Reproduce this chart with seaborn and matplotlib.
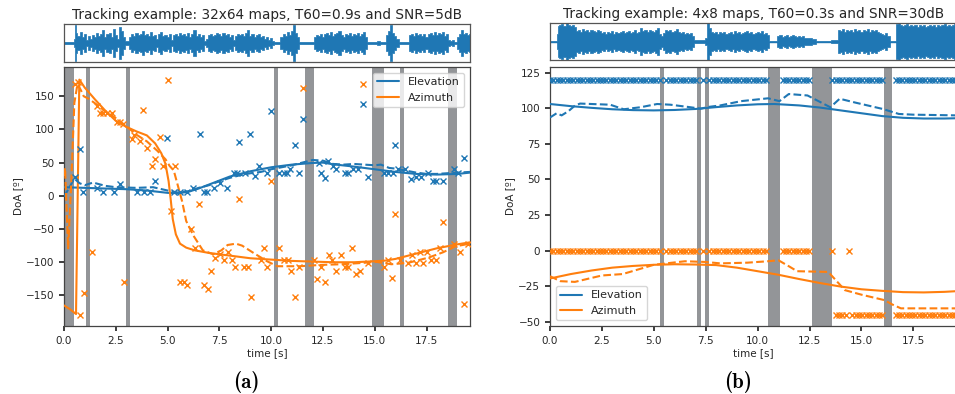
import numpy as np
import matplotlib
matplotlib.use("Agg")
import matplotlib.pyplot as plt
import seaborn as sns

# ---------------- data ----------------
T_END = 19.6
BLUE = "#1f77b4"
ORANGE = "#ff7f0e"
BAND = "#939598"

# (a) 32x64 maps, T60=0.9s, SNR=5dB
left_bands = [(0.0, 0.48), (1.06, 1.26), (3.0, 3.19), (10.12, 10.31), (11.65, 12.05),
              (14.89, 15.45), (16.24, 16.43), (18.56, 18.95)]

# waveform envelope (time [s], relative amplitude)
wave_l = [(0, 0.03), (0.45, 0.03), (0.5, 0.2), (0.55, 0.92), (0.6, 0.5), (0.7, 0.35), (0.8, 0.55),
          (0.9, 0.3), (1.0, 0.45), (1.1, 0.15), (1.2, 0.35), (1.3, 0.2), (1.4, 0.4), (1.5, 0.3),
          (1.6, 0.5), (1.7, 0.35), (1.8, 0.45), (1.9, 0.65), (2.0, 0.3), (2.1, 0.45), (2.2, 0.5),
          (2.3, 0.3), (2.4, 0.7), (2.5, 0.4), (2.6, 0.2), (2.7, 0.8), (2.8, 0.6), (2.9, 0.3),
          (3.0, 0.1), (3.1, 0.08), (3.2, 0.3), (3.3, 0.45), (3.4, 0.35), (3.5, 0.5), (3.6, 0.4),
          (3.7, 0.45), (3.8, 0.6), (3.9, 0.4), (4.0, 0.45), (4.1, 0.35), (4.2, 0.55), (4.3, 0.35),
          (4.4, 0.4), (4.5, 0.2), (4.6, 0.45), (4.7, 0.55), (4.8, 0.35), (4.9, 0.4), (5.0, 0.3),
          (5.1, 0.45), (5.2, 0.15), (5.3, 0.4), (5.4, 0.45), (5.5, 0.35), (5.6, 0.5), (5.7, 0.4),
          (5.8, 0.45), (5.9, 0.35), (6.0, 0.5), (6.1, 0.3), (6.2, 0.45), (6.3, 0.65), (6.4, 0.35),
          (6.5, 0.45), (6.6, 0.3), (6.7, 0.4), (6.8, 0.12), (6.9, 0.2), (7.0, 0.4), (7.1, 0.45),
          (7.2, 0.35), (7.3, 0.4), (7.4, 0.5), (7.5, 0.45), (7.6, 0.35), (7.7, 0.5), (7.8, 0.4),
          (7.9, 0.45), (8.0, 0.3), (8.1, 0.4), (8.2, 0.15), (8.3, 0.35), (8.4, 0.45), (8.5, 0.4),
          (8.6, 0.45), (8.7, 0.35), (8.8, 0.5), (8.9, 0.65), (9.0, 0.35), (9.1, 0.45), (9.2, 0.3),
          (9.3, 0.4), (9.4, 0.45), (9.5, 0.3), (9.6, 0.35), (9.7, 0.2), (9.8, 0.3), (9.9, 0.15),
          (10.0, 0.25), (10.1, 0.08), (10.2, 0.05), (10.4, 0.05), (10.5, 0.3), (10.6, 0.45),
          (10.7, 0.35), (10.8, 0.55), (10.9, 0.4), (11.0, 0.6), (11.1, 0.9), (11.2, 0.5),
          (11.3, 0.3), (11.4, 0.04), (12.0, 0.04), (12.1, 0.3), (12.2, 0.4), (12.3, 0.35),
          (12.4, 0.45), (12.5, 0.3), (12.6, 0.45), (12.7, 0.5), (12.8, 0.4), (12.9, 0.55),
          (13.0, 0.35), (13.1, 0.45), (13.2, 0.5), (13.3, 0.6), (13.4, 0.4), (13.5, 0.3),
          (13.6, 0.45), (13.7, 0.4), (13.8, 0.5), (13.9, 0.35), (14.0, 0.45), (14.1, 0.4),
          (14.2, 0.5), (14.3, 0.35), (14.4, 0.45), (14.5, 0.55), (14.6, 0.3), (14.7, 0.05),
          (15.0, 0.04), (15.2, 0.1), (15.3, 0.04), (15.5, 0.05), (15.6, 0.4), (15.7, 0.6),
          (15.8, 0.92), (15.9, 0.5), (16.0, 0.35), (16.1, 0.2), (16.2, 0.04), (16.6, 0.04),
          (16.7, 0.4), (16.8, 0.45), (16.9, 0.35), (17.0, 0.5), (17.1, 0.4), (17.2, 0.45),
          (17.3, 0.35), (17.4, 0.45), (17.5, 0.3), (17.6, 0.45), (17.7, 0.5), (17.8, 0.4),
          (17.9, 0.55), (18.0, 0.4), (18.1, 0.5), (18.2, 0.45), (18.3, 0.55), (18.4, 0.35),
          (18.5, 0.45), (18.6, 0.15), (18.7, 0.1), (18.8, 0.15), (18.9, 0.05), (19.0, 0.3),
          (19.1, 0.45), (19.2, 0.65), (19.3, 0.45), (19.4, 0.5), (19.5, 0.4), (19.6, 0.45)]

el_true_l_t = [0, 1, 2, 3, 4, 5, 5.5, 6, 6.5, 7, 7.5, 8, 9, 10, 11, 12, 12.5, 13, 14, 15, 16, 17,
               18, 19, 19.6]
el_true_l = [13, 12, 11, 10, 8, 4.5, 4, 6, 11, 17, 23, 29, 37, 43, 47, 49.5, 50, 47.5, 44, 40,
             36, 33, 32, 33, 35]
el_est_l_t = [0, 0.25, 0.5, 0.75, 1.0, 1.4, 2.0, 2.5, 3.5, 4.3, 5.0, 5.5, 6.0, 6.5, 7.0, 7.5, 8.0,
              8.5, 9.0, 9.5, 10.0, 10.5, 11.0, 11.5, 12.0, 12.5, 13.0, 13.5, 14.0, 14.5, 15.0,
              15.3, 15.7, 16.0, 16.5, 17.0, 17.5, 18.0, 18.5, 19.0, 19.6]
el_est_l = [-1, 12, 26, 19, 16, 20, 15, 13, 12, 13, 8, 5, 7, 12, 16, 22, 27, 31, 34, 36, 40, 43,
            46, 50, 54, 53, 48, 47, 48, 47, 46, 47, 42, 41, 38, 35, 33, 33, 34, 35, 36]
az_true_l_t = [0, 0.3, 0.58, 0.74, 1.0, 1.5, 2.0, 2.5, 3.0, 3.5, 4.0, 4.4, 4.7, 4.9, 5.05, 5.15,
               5.25, 5.4, 5.6, 5.9, 6.3, 7.0, 8.0, 9.0, 10.0, 11.0, 12.0, 13.0, 14.0, 15.0, 15.5,
               16.0, 16.5, 17.0, 17.5, 18.0, 18.5, 19.0, 19.6]
az_true_l = [-165, -171, -178, 175, 163, 145, 128, 113, 104, 97, 91, 79, 64, 48, 22, -5, -35,
             -58, -72, -78, -82, -86, -90, -94, -96, -98, -99, -100, -100, -98.5, -97.5, -95,
             -91, -87, -83, -79, -76, -73, -70]
az_est_l_t = [0, 0.05, 0.2, 0.35, 0.5, 0.65, 0.8, 0.95, 1.2, 1.6, 2.0, 2.5, 3.0, 3.5, 4.0, 4.5,
              4.9, 5.1, 5.3, 5.5, 5.7, 5.9, 6.25, 6.7, 7.2, 7.6, 7.9, 8.3, 8.6, 9.15, 9.8, 10.3,
              11.0, 11.4, 12.4, 13.4, 14.4, 15.1, 15.8, 16.6, 17.6, 18.3, 18.9, 19.6]
az_est_l = [30, 42, -79, 20, 140, 168, 160, 150, 146, 137, 127, 117, 105, 92, 82, 68, 55, 45, 38,
            15, -8, -38, -60, -82, -88, -82, -74, -72, -75, -86, -98.5, -106, -106, -106, -104,
            -103, -101, -99.5, -103, -101, -93, -85, -76, -72]

el_pts_l_t = [0.55, 0.77, 0.93, 1.58, 1.9, 2.39, 2.7, 3.5, 3.84, 4.16, 4.4, 4.96, 5.3, 5.6, 5.93,
              6.25, 6.57, 6.74, 6.9, 7.22, 7.54, 7.86, 8.2, 8.35, 8.43, 8.75, 9.0, 9.24, 9.4, 9.8,
              9.99, 10.36, 10.6, 10.77, 10.93, 11.17, 11.33, 11.54, 12.3, 12.4, 12.6, 12.75, 13.0,
              13.15, 13.56, 13.72, 13.96, 14.2, 14.44, 14.67, 15.47, 15.63, 15.87, 16.0, 16.1,
              16.45, 16.77, 17.0, 17.25, 17.57, 17.8, 17.96, 18.3, 18.85, 19.0, 19.3]
el_pts_l = [29, 70, 6.5, 11.6, 6.5, 6.5, 18, 6.5, 6.5, 6.5, 23, 87, 6.5, 6.5, 6.5, 12, 93, 6.5,
            6.5, 12, 20, 12, 35, 35, 81, 35, 93, 30, 45, 35, 128, 35, 35, 35, 40, 76, 35, 116, 50,
            35, 27, 53, 45, 40, 35, 35, 41, 41, 139, 29, 35, 35, 35, 76, 40, 40, 26, 28, 28, 35,
            23, 23, 23, 40, 35, 57]
az_pts_l_t = [0.53, 0.66, 0.77, 0.97, 1.34, 1.58, 1.74, 1.9, 2.06, 2.3, 2.55, 2.7, 2.87, 2.9,
              3.27, 3.4, 3.67, 3.83, 4.0, 4.24, 4.4, 4.64, 4.8, 5.0, 5.17, 5.37, 5.6, 5.77, 5.96,
              6.14, 6.33, 6.54, 6.74, 6.93, 7.1, 7.3, 7.54, 7.7, 7.9, 8.1, 8.27, 8.47, 8.67, 8.86,
              9.04, 9.5, 9.64, 9.8, 10.0, 10.4, 10.6, 10.8, 10.97, 11.17, 11.33, 11.54, 12.05,
              12.2, 12.4, 12.6, 12.8, 12.96, 13.15, 13.35, 13.55, 13.7, 13.9, 14.1, 14.3, 14.44,
              14.67, 15.45, 15.64, 15.83, 16.0, 16.2, 16.6, 16.8, 17.0, 17.2, 17.35, 17.5, 17.7,
              17.95, 18.15, 18.3, 18.85, 19.1, 19.3, 19.5]
az_pts_l = [169, 172, -180, -146, -84, 135, 124, 124, 124, 124, 111, 111, 108, -130, 86, 91, 83,
            129, 72, 45, 56, 89, 45, 174, -23, 45, -130, -130, -135, -50, -79, -13, -135, -141,
            -113, -94, -88, -96, -85, -96, -107, -5, -107, -107, -152, -96, -79, -107, 22, -79,
            -96, -96, -113, -152, -107, 163, -96, -125, -107, -130, -89, -96, -113, -89, -107,
            -107, -78, -118, -113, 169, -101, -107, -96, -124, -28, -96, -101, -89, -101, -85,
            -101, -85, -96, -96, -78, -39, -73, -85, -163, -73]

# (b) 4x8 maps, T60=0.3s, SNR=30dB
right_bands = [(5.32, 5.51), (7.06, 7.25), (7.45, 7.64), (10.49, 11.07), (12.62, 13.59),
               (16.10, 16.49)]

wave_r = [(0, 0.05), (0.3, 0.05), (0.35, 0.4), (0.4, 0.8), (0.5, 0.85), (0.6, 0.9), (0.7, 0.8),
          (0.8, 0.95), (0.9, 0.85), (1.0, 0.8), (1.1, 0.85), (1.2, 0.75), (1.3, 0.55), (1.4, 0.6),
          (1.5, 0.5), (1.6, 0.65), (1.7, 0.55), (1.8, 0.6), (1.9, 0.5), (2.0, 0.6), (2.1, 0.55),
          (2.2, 0.5), (2.3, 0.6), (2.4, 0.55), (2.5, 0.45), (2.6, 0.5), (2.7, 0.4), (2.8, 0.5),
          (2.9, 0.45), (3.0, 0.55), (3.1, 0.4), (3.2, 0.5), (3.3, 0.45), (3.4, 0.5), (3.5, 0.55),
          (3.6, 0.45), (3.7, 0.5), (3.8, 0.55), (3.9, 0.45), (4.0, 0.5), (4.1, 0.6), (4.2, 0.45),
          (4.3, 0.5), (4.4, 0.7), (4.5, 0.55), (4.6, 0.6), (4.7, 0.5), (4.8, 0.6), (4.9, 0.55),
          (5.0, 0.5), (5.1, 0.6), (5.2, 0.7), (5.3, 0.4), (5.4, 0.3), (5.5, 0.45), (5.6, 0.6),
          (5.7, 0.55), (5.8, 0.6), (5.9, 0.5), (6.0, 0.55), (6.1, 0.65), (6.2, 0.5), (6.3, 0.45),
          (6.4, 0.5), (6.5, 0.4), (6.6, 0.45), (6.7, 0.4), (6.8, 0.45), (6.9, 0.3), (7.0, 0.1),
          (7.1, 0.06), (7.4, 0.06), (7.5, 0.2), (7.6, 0.95), (7.7, 0.7), (7.8, 0.5), (7.9, 0.45),
          (8.0, 0.5), (8.1, 0.4), (8.2, 0.5), (8.3, 0.45), (8.4, 0.5), (8.5, 0.4), (8.6, 0.45),
          (8.7, 0.5), (8.8, 0.4), (8.9, 0.55), (9.0, 0.45), (9.1, 0.5), (9.2, 0.4), (9.3, 0.45),
          (9.4, 0.5), (9.5, 0.55), (9.6, 0.45), (9.7, 0.5), (9.8, 0.4), (9.9, 0.45), (10.0, 0.5),
          (10.1, 0.45), (10.2, 0.55), (10.3, 0.4), (10.4, 0.45), (10.5, 0.35), (10.6, 0.05),
          (10.9, 0.05), (11.0, 0.3), (11.1, 0.35), (11.2, 0.25), (11.3, 0.3), (11.4, 0.35),
          (11.5, 0.25), (11.6, 0.3), (11.7, 0.35), (11.8, 0.3), (11.9, 0.25), (12.0, 0.3),
          (12.1, 0.25), (12.2, 0.3), (12.3, 0.2), (12.5, 0.2), (12.7, 0.12), (12.9, 0.05),
          (13.5, 0.03), (13.6, 0.08), (13.8, 0.1), (13.9, 0.6), (14.0, 0.55), (14.1, 0.65),
          (14.2, 0.5), (14.3, 0.6), (14.4, 0.55), (14.5, 0.6), (14.6, 0.5), (14.7, 0.65),
          (14.8, 0.55), (14.9, 0.6), (15.0, 0.5), (15.1, 0.6), (15.2, 0.55), (15.3, 0.65),
          (15.4, 0.5), (15.5, 0.6), (15.6, 0.55), (15.7, 0.6), (15.8, 0.5), (15.9, 0.45),
          (16.0, 0.4), (16.1, 0.35), (16.2, 0.45), (16.3, 0.3), (16.4, 0.04), (16.6, 0.04),
          (16.7, 0.9), (16.8, 0.95), (16.9, 0.85), (17.0, 0.8), (17.1, 0.85), (17.2, 0.9),
          (17.3, 0.8), (17.4, 0.85), (17.5, 0.8), (17.6, 0.85), (17.7, 0.75), (17.8, 0.85),
          (17.9, 0.8), (18.0, 0.85), (18.1, 0.75), (18.2, 0.8), (18.3, 0.85), (18.4, 0.8),
          (18.5, 0.85), (18.6, 0.75), (18.7, 0.85), (18.8, 0.8), (18.9, 0.85), (19.0, 0.9),
          (19.1, 0.8), (19.2, 0.85), (19.3, 0.8), (19.4, 0.85), (19.5, 0.9), (19.6, 0.85)]

el_true_r_t = [0, 1, 2, 3, 4, 5, 6, 7, 8, 9, 10, 10.8, 12, 13, 14, 15, 16, 17, 18, 19, 19.6]
el_true_r = [103, 101.5, 100.3, 99.3, 98.7, 98.5, 98.8, 99.5, 100.8, 102, 102.8, 103, 102, 100.5,
             98.5, 96.5, 94.5, 93.3, 92.8, 92.8, 93]
el_est_r_t = [0, 0.32, 0.56, 0.89, 1.21, 1.45, 2.9, 3.55, 4.35, 5.16, 5.8, 6.77, 7.25, 7.66, 8.2,
              9.2, 10.5, 11.05, 11.5, 12.4, 13.5, 13.95, 14.7, 16.0, 16.8, 17.5, 19.6]
el_est_r = [93.5, 96.5, 95, 98, 102, 103.3, 102.5, 99.3, 100.7, 103, 102.5, 100.7, 99.7, 101,
            102, 105, 107, 105, 110, 109, 100.7, 106.7, 104, 99.6, 96, 95.5, 95]
az_true_r_t = [0, 1, 2, 3, 4, 5, 6, 7, 8, 9, 10, 11, 12, 13, 14, 15, 16, 17, 18, 19, 19.6]
az_true_r = [-19.6, -16.5, -14, -12, -10.8, -10, -9.6, -9.8, -10.2, -12, -14.5, -17, -20, -22.8,
             -25.3, -27.2, -28.3, -29.2, -29.4, -29, -28.5]
az_est_r_t = [0, 0.5, 1.2, 2.5, 3.5, 5.0, 6.5, 7.5, 8.2, 9.5, 10.5, 11.0, 11.5, 11.9, 13.4, 14.2,
              15.0, 16.1, 16.5, 16.9, 17.3, 19.6]
az_est_r = [-18, -21.5, -22, -17.5, -16.5, -10, -7.5, -8, -9, -8.5, -7.5, -6.8, -11, -14.5, -15,
            -27.8, -31, -34.8, -38, -40.6, -40.6, -40.6]

# per-frame estimates of panel (b)
frame_step = 0.16
el_frame_r = 120          # elevation estimate at every voiced frame
az_frame_first = 0        # azimuth estimate before the switch
az_frame_second = -45     # azimuth estimate after the switch
az_switch_t = 13.7
az_outlier_t = [14.4]     # frames after the switch still estimated at 0

# ---------------- style ----------------
sns.set_theme(style="ticks")
plt.rcParams["font.family"] = ["DejaVu Sans"]
plt.rcParams.update({
    "axes.edgecolor": "#444444",
    "axes.linewidth": 0.9,
    "xtick.labelsize": 7.5,
    "ytick.labelsize": 7.5,
    "axes.labelsize": 7.5,
    "xtick.major.size": 3.5,
    "ytick.major.size": 3.5,
    "xtick.color": "#262626",
    "ytick.color": "#262626",
})

W, H = 955, 394
fig = plt.figure(figsize=(W / 100, H / 100), dpi=100)


def rect(x0, y0, x1, y1):
    return [x0 / W, 1 - y1 / H, (x1 - x0) / W, (y1 - y0) / H]


def draw_wave(ax, pairs, title):
    t = np.array([p[0] for p in pairs])
    a = np.array([p[1] for p in pairs])
    ax.fill_between(t, -a, a, step="mid", color=BLUE, lw=0.5, edgecolor=BLUE)
    ax.axhline(0, color=BLUE, lw=1.0)
    ax.set_xlim(0, T_END)
    ax.set_ylim(-0.95, 0.95)
    ax.set_xticks([])
    ax.set_yticks([])
    for s in ax.spines.values():
        s.set_color("#555555")
    ax.set_title(title, fontsize=9.8, pad=3.5, color="#262626")


def draw_main(ax, bands, lines, pts, ylim, yticks, leg_loc):
    for b0, b1 in bands:
        ax.axvspan(b0, b1, color=BAND, lw=0, zorder=0)
    for (tt, vv, col, ls, lab) in lines:
        sns.lineplot(x=tt, y=vv, ax=ax, color=col, lw=1.5, label=lab,
                     sort=False, estimator=None, zorder=3)
        ax.lines[-1].set_linestyle(ls)
    for (tt, vv, col, ms) in pts:
        ax.plot(tt, vv, linestyle="none", marker="x", color=col, ms=ms, mew=1.0, zorder=4)
    ax.set_xlim(0, T_END)
    ax.set_ylim(*ylim)
    ax.set_yticks(yticks)
    ax.set_xticks([0, 2.5, 5, 7.5, 10, 12.5, 15, 17.5])
    ax.set_xlabel("time [s]", labelpad=2)
    ax.set_ylabel("DoA [º]", labelpad=2)
    leg = ax.legend(loc=leg_loc, fontsize=8, frameon=True, fancybox=True, framealpha=0.8,
                    borderpad=0.4, handlelength=2.0)
    leg.get_frame().set_edgecolor("#cccccc")


# ---------------- panel (a) ----------------
axw1 = fig.add_axes(rect(64, 24, 470, 62))
draw_wave(axw1, wave_l, "Tracking example: 32x64 maps, T60=0.9s and SNR=5dB")
ax1 = fig.add_axes(rect(64, 67, 470, 326))
draw_main(ax1, left_bands,
          [(el_true_l_t, el_true_l, BLUE, "-", "Elevation"),
           (az_true_l_t, az_true_l, ORANGE, "-", "Azimuth"),
           (el_est_l_t, el_est_l, BLUE, "--", None),
           (az_est_l_t, az_est_l, ORANGE, "--", None)],
          [(el_pts_l_t, el_pts_l, BLUE, 4.5), (az_pts_l_t, az_pts_l, ORANGE, 4.5)],
          (-196, 194), [-150, -100, -50, 0, 50, 100, 150], "upper right")

# ---------------- panel (b) ----------------
frames = np.arange(0, T_END, frame_step)
voiced = np.ones_like(frames, dtype=bool)
for b0, b1 in right_bands:
    voiced &= ~((frames >= b0) & (frames <= b1))
ft = frames[voiced]
el_frames = np.full(ft.shape, el_frame_r, dtype=float)
az_frames = np.where(ft < az_switch_t, az_frame_first, az_frame_second).astype(float)
for o in az_outlier_t:
    az_frames[np.isclose(ft, o, atol=frame_step / 2)] = az_frame_first

axw2 = fig.add_axes(rect(550, 23, 957, 60))
draw_wave(axw2, wave_r, "Tracking example: 4x8 maps, T60=0.3s and SNR=30dB")
ax2 = fig.add_axes(rect(550, 67, 957, 326))
draw_main(ax2, right_bands,
          [(el_true_r_t, el_true_r, BLUE, "-", "Elevation"),
           (az_true_r_t, az_true_r, ORANGE, "-", "Azimuth"),
           (el_est_r_t, el_est_r, BLUE, "--", None),
           (az_est_r_t, az_est_r, ORANGE, "--", None)],
          [(ft, el_frames, BLUE, 4.0), (ft, az_frames, ORANGE, 4.0)],
          (-53, 129), [-50, -25, 0, 25, 50, 75, 100, 125], "lower left")

# captions
fig.text(246 / W, 1 - 382 / H, "(a)", ha="center", va="center", fontsize=15,
         family="cmb10", color="black")
fig.text(738 / W, 1 - 382 / H, "(b)", ha="center", va="center", fontsize=15,
         family="cmb10", color="black")

fig.savefig("out.png", dpi=100)
